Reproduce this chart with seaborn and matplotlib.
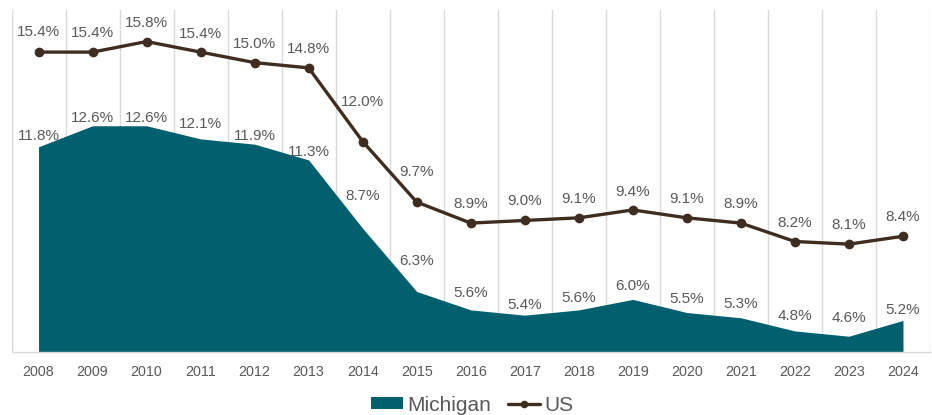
import matplotlib
matplotlib.use("Agg")
import matplotlib.pyplot as plt
import seaborn as sns
import numpy as np
import pandas as pd
from matplotlib.patches import Patch
from matplotlib.lines import Line2D

years = ["2008", "2009", "2010", "2011", "2012", "2013", "2014", "2015", "2016",
         "2017", "2018", "2019", "2020", "2021", "2022", "2023", "2024"]
michigan = [11.8, 12.6, 12.6, 12.1, 11.9, 11.3, 8.7, 6.3, 5.6, 5.4, 5.6, 6.0, 5.5, 5.3, 4.8, 4.6, 5.2]
us = [15.4, 15.4, 15.8, 15.4, 15.0, 14.8, 12.0, 9.7, 8.9, 9.0, 9.1, 9.4, 9.1, 8.9, 8.2, 8.1, 8.4]

# label offsets above each point (pixels), as placed in the original
us_lift = [20, 19, 19, 18, 19, 19, 40, 30, 19, 19, 19, 18, 19, 19, 19, 19, 19]
mi_lift = [11, 8, 8, 15, 8, 8, 32, 30, 17, 10, 12, 13, 14, 14, 15, 18, 10]

sns.set_theme(style="white")
plt.rcParams['font.family'] = ['Liberation Sans', 'DejaVu Sans']

teal = "#02606E"
brown = "#3E2D20"
txt = "#595959"
grid = "#D9D9D9"

df = pd.DataFrame({"pos": np.arange(len(years)), "Michigan": michigan, "US": us})

fig = plt.figure(figsize=(9.32, 4.15), dpi=100)
ax = fig.add_axes([11.5 / 932, 63 / 415, (930 - 11.5) / 932, (352 - 10) / 415])

ymin, ymax = 4.0, 17.0
ax.fill_between(df["pos"], df["Michigan"], ymin, color=teal, linewidth=0, zorder=2)
sns.lineplot(data=df, x="pos", y="US", ax=ax, color=brown, linewidth=2.4,
             marker="o", markersize=7, markeredgewidth=0, zorder=3)

for i in range(len(years)):
    ax.annotate(f"{us[i]:.1f}%", (i, us[i]), xytext=(0, us_lift[i]), textcoords="offset pixels",
                ha="center", va="center", fontsize=11, color=txt, zorder=4)
    ax.annotate(f"{michigan[i]:.1f}%", (i, michigan[i]), xytext=(0, mi_lift[i]), textcoords="offset pixels",
                ha="center", va="center", fontsize=11, color=txt, zorder=4)

ax.set_xlim(-0.5, len(years) - 0.5)
ax.set_ylim(ymin, ymax)
ax.set_xticks(df["pos"])
ax.set_xticklabels(years, fontsize=10.3, color=txt)
ax.set_xticks(np.arange(-0.5, len(years)), minor=True)
ax.tick_params(axis="x", which="both", length=0, pad=9)
ax.set_yticks([])
ax.grid(False)
ax.grid(axis="x", which="minor", color=grid, linewidth=1, zorder=0)
ax.set_xlabel("")
ax.set_ylabel("")
for s in ["top", "right", "left"]:
    ax.spines[s].set_visible(False)
ax.spines["bottom"].set_color(grid)
ax.spines["bottom"].set_linewidth(1)

handles = [Patch(facecolor=teal, edgecolor="none", label="Michigan"),
           Line2D([0], [0], color=brown, linewidth=2.4, marker="o", markersize=5.5,
                  markeredgewidth=0, label="US")]
fig.legend(handles=handles, loc="center", bbox_to_anchor=(472 / 932, 10 / 415), ncol=2, frameon=False,
           fontsize=15, labelcolor=txt, handlelength=1.55, handleheight=0.5, handletextpad=0.2,
           columnspacing=0.8, borderpad=0)

fig.savefig("out.png", dpi=100)
